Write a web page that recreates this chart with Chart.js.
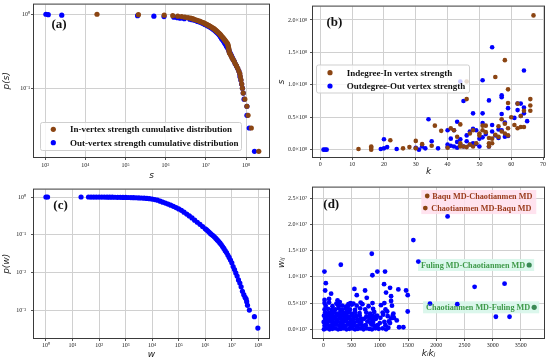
<!DOCTYPE html>
<html><head><meta charset="utf-8">
<script src="https://cdn.jsdelivr.net/npm/chart.js@4.4.1/dist/chart.umd.min.js"></script>
<style>
html,body{margin:0;padding:0;background:#fff;width:550px;height:362px;overflow:hidden}
.p{position:absolute;width:275px;height:181px}
</style></head><body>
<div class="p" style="left:0;top:0"><canvas id="ca"></canvas></div>
<div class="p" style="left:275px;top:0"><canvas id="cb"></canvas></div>
<div class="p" style="left:0;top:181px"><canvas id="cc"></canvas></div>
<div class="p" style="left:275px;top:181px"><canvas id="cd"></canvas></div>
<script>
// ---------------- DATA ----------------
// (a) cumulative vertex strength distribution: p(s) levels (shared) and strengths
const pLevels = [1.000,0.986,0.971,0.957,0.943,0.929,0.914,0.900,0.886,0.871,
 0.857,0.843,0.829,0.814,0.800,0.786,0.771,0.757,0.743,0.729,
 0.714,0.700,0.686,0.671,0.657,0.643,0.629,0.614,0.600,0.586,
 0.571,0.557,0.543,0.529,0.514,0.500,0.486,0.471,0.457,0.443,
 0.429,0.414,0.400,0.386,0.371,0.357,0.343,0.329,0.314,0.300,
 0.286,0.271,0.257,0.243,0.229,0.214,0.200,0.186,0.171,0.157,
 0.143,0.129,0.114,0.100,0.086,0.071,0.057,0.043,0.029,0.014];
const inStrength = [1.96e4,2.1e5,9.2e5,1.5e6,2.0e6,2.5e6,3.0e6,3.6e6,4.2e6,4.6e6,
 5.0e6,5.5e6,6.0e6,6.6e6,7.2e6,7.8e6,8.5e6,9.1e6,9.8e6,1.05e7,
 1.12e7,1.2e7,1.28e7,1.37e7,1.46e7,1.55e7,1.64e7,1.72e7,1.8e7,1.9e7,
 2.0e7,2.1e7,2.2e7,2.3e7,2.4e7,2.5e7,2.62e7,2.75e7,2.88e7,3.0e7,
 3.15e7,3.3e7,3.45e7,3.55e7,3.6e7,3.65e7,3.7e7,3.75e7,3.8e7,3.85e7,
 4.1e7,4.3e7,4.5e7,4.8e7,5.1e7,5.4e7,5.8e7,6.2e7,6.6e7,7.0e7,
 7.2e7,7.5e7,7.8e7,8.1e7,8.5e7,9.3e7,1.05e8,1.12e8,1.35e8,2.07e8];
const outStrength = [1.05e3,1.2e3,2.6e3,2.0e5,5.1e5,9.1e5,1.6e6,1.95e6,2.3e6,2.9e6,
 4.0e6,4.5e6,5.2e6,5.8e6,6.3e6,6.9e6,7.6e6,8.3e6,8.9e6,9.5e6,
 1.02e7,1.1e7,1.17e7,1.26e7,1.35e7,1.45e7,1.51e7,1.62e7,1.7e7,1.78e7,
 1.86e7,1.95e7,2.04e7,2.14e7,2.24e7,2.29e7,2.4e7,2.45e7,2.57e7,2.69e7,
 2.82e7,2.88e7,3.02e7,3.16e7,3.24e7,3.39e7,3.55e7,3.72e7,3.8e7,3.98e7,
 4.17e7,4.37e7,4.57e7,4.79e7,5.13e7,5.37e7,5.75e7,6.17e7,6.61e7,6.92e7,
 7.08e7,7.41e7,7.76e7,8.13e7,8.51e7,8.91e7,1.05e8,1.05e8,1.2e8,1.62e8];

// (b) degree k vs strength s (s in units of 10^8)
const indegreeInStrength = [[12,0.01],[16,0.03],[16,0.0],[16,0.05],[22,0.145],[26,0.02],[28,0.04],[30,0.135],[30,0.02],[32,0.085],
 [35,0.06],[36,0.37],[38,0.29],[40,0.03],[41,0.33],[42,0.30],[43,0.20],[44,0.39],[44,0.10],[44,0.05],
 [45,0.05],[46,0.78],[46,1.05],[46,0.04],[47,0.08],[47,0.25],[48,0.30],[48,0.05],[49,0.10],[50,0.25],
 [50,0.22],[51,0.30],[51,0.37],[52,0.27],[52,0.37],[53,0.18],[53,0.05],[53,0.10],[54,0.10],[54,0.17],
 [55,1.12],[55,0.23],[56,0.36],[56,0.20],[57,0.47],[57,0.28],[58,1.38],[58,0.40],[58,0.25],[59,0.93],
 [59,0.72],[59,0.33],[59,0.22],[60,0.50],[61,0.38],[62,0.33],[62,0.71],[63,0.35],[63,0.52],[64,0.35],
 [64,0.60],[66,0.78],[66,0.68],[66,0.60],[67,2.07]];
const outdegreeOutStrength = [[1,0],[1.5,0],[2,0],[19,0.01],[20,0.02],[20,0.16],[21,0.04],[24,0.01],[30,0.03],[31,0.0],
 [32,0.05],[33,0.02],[34,0.47],[35,0.13],[37,0.02],[40,0.30],[40,0.08],[40,0.04],[41,0.17],[41,0.06],
 [42,0.05],[42,0.30],[43,0.43],[43,0.12],[43,0.03],[44,1.05],[44,0.16],[44,0.07],[45,0.75],[45,0.05],
 [46,0.22],[46,0.13],[47,0.28],[47,0.08],[48,0.56],[48,0.32],[48,0.10],[49,0.30],[49,0.09],[50,0.17],
 [50,0.05],[51,1.07],[51,0.56],[51,0.41],[51,0.19],[52,0.24],[53,0.76],[53,0.05],[54,1.58],[54,0.38],
 [54,0.28],[55,0.22],[56,0.31],[56,0.18],[57,0.84],[57,0.81],[57,0.55],[57,0.30],[58,0.42],[58,0.20],
 [59,0.64],[59,0.21],[61,0.49],[62,0.71],[62,0.61],[63,0.52],[63,0.71],[64,1.22],[64,0.65],[64,0.56],[65,0.44]];

// (c) cumulative edge weight distribution [w, p(w)]
const weightCDF = [[1,1.0],[1.15,1.0],[21,0.9997],[40,0.999],[50,0.998],[63,0.997],[79,0.996],[100,0.995],[126,0.994],[158,0.993],
 [200,0.991],[251,0.989],[316,0.987],[398,0.985],[501,0.983],[631,0.98],[794,0.977],[1000,0.974],[1259,0.97],[1585,0.966],
 [1995,0.961],[2512,0.955],[3162,0.948],[3981,0.94],[5012,0.93],[6310,0.918],[7943,0.902],[1.0e4,0.88],[1.26e4,0.855],[1.58e4,0.822],
 [2.0e4,0.775],[2.51e4,0.731],[3.16e4,0.689],[3.98e4,0.65],[5.01e4,0.607],[6.31e4,0.567],[7.94e4,0.524],[1.0e5,0.485],[1.26e5,0.444],[1.58e5,0.398],
 [2.0e5,0.354],[2.51e5,0.315],[3.16e5,0.28],[3.98e5,0.244],[5.01e5,0.215],[6.31e5,0.189],[7.94e5,0.165],[1.0e6,0.144],[1.12e6,0.135],[1.26e6,0.126],
 [1.41e6,0.116],[1.58e6,0.107],[1.78e6,0.1],[2.0e6,0.094],[2.24e6,0.087],[2.51e6,0.08],[2.82e6,0.073],[3.16e6,0.067],[3.55e6,0.061],[3.98e6,0.055],
 [4.47e6,0.049],[5.01e6,0.0435],[5.62e6,0.038],[6.31e6,0.0338],[7.08e6,0.029],[7.94e6,0.0252],[8.91e6,0.0215],[1.0e7,0.0181],[1.12e7,0.0145],[1.26e7,0.012],
 [1.41e7,0.0098],[1.58e7,0.0081],[1.78e7,0.0064],[2.0e7,0.0053],[2.24e7,0.0042],[2.51e7,0.0032],[2.82e7,0.0026],[3.16e7,0.0022],[3.47e7,0.002],[3.63e7,0.0017],
 [3.89e7,0.00136],[4.57e7,0.00102],[7.08e7,0.00068],[9.55e7,0.00034]];

// (d) k_i*k_j vs w_ij (w in units of 10^7)
const edgeWeights = [
 [10,0.00],[60,0.02],[110,0.00],[160,0.01],[210,0.02],[260,0.00],[310,0.01],[360,0.02],[410,0.00],[460,0.01],[510,0.02],[560,0.00],[610,0.01],[660,0.02],[710,0.00],[760,0.02],[810,0.01],[860,0.00],[920,0.02],[980,0.01],[1050,0.02],[1110,0.00],[1150,0.03],
 [20,0.07],[70,0.09],[120,0.06],[170,0.08],[230,0.09],[280,0.07],[330,0.08],[380,0.06],[430,0.09],[480,0.07],[530,0.08],[590,0.06],[640,0.09],[700,0.07],[750,0.08],[850,0.09],[900,0.07],[960,0.08],[1100,0.08],
 [5,0.14],[50,0.13],[100,0.15],[150,0.14],[200,0.12],[250,0.15],[300,0.13],[350,0.14],[400,0.15],[450,0.12],[500,0.14],[550,0.13],[610,0.15],[670,0.14],[780,0.15],[830,0.13],[880,0.14],[1000,0.12],[1080,0.14],[1160,0.15],
 [30,0.20],[80,0.19],[130,0.21],[180,0.20],[230,0.18],[280,0.21],[330,0.19],[380,0.20],[430,0.21],[480,0.18],[530,0.20],[600,0.19],[660,0.21],[720,0.20],[820,0.21],[870,0.19],[930,0.20],[1010,0.22],[1200,0.21],
 [10,0.26],[60,0.25],[110,0.27],[160,0.26],[210,0.24],[260,0.27],[310,0.25],[360,0.26],[410,0.27],[460,0.24],[520,0.26],[580,0.25],[640,0.27],[760,0.24],[820,0.27],[880,0.25],[950,0.26],[1060,0.28],[1140,0.25],[1230,0.27],
 [30,0.32],[90,0.31],[140,0.33],[190,0.32],[240,0.30],[300,0.33],[350,0.31],[400,0.32],[450,0.33],[500,0.30],[560,0.32],[640,0.31],[760,0.32],[830,0.30],[900,0.33],[1050,0.32],[1130,0.34],
 [20,0.38],[80,0.39],[150,0.37],[210,0.38],[270,0.40],[330,0.37],[400,0.39],[470,0.38],[560,0.37],[650,0.40],[740,0.38],[880,0.39],[1100,0.38],
 [40,0.45],[160,0.44],[260,0.46],[330,0.45],[390,0.43],[430,0.44],[500,0.47],[590,0.45],[800,0.44],[1020,0.46],
 [20,0.50],[100,0.51],[230,0.49],[290,0.52],[480,0.50],[530,0.49],[660,0.51],[870,0.50],[1080,0.50],
 [18,1.10],[308,1.23],[857,1.44],[42,0.88],[30,0.74],[136,0.68],[549,0.77],[591,0.65],[738,0.74],[768,0.60],
 [868,1.03],[956,1.10],[1092,1.10],[1075,0.86],[1110,0.70],[1181,0.79],[1199,0.63],[1199,0.54],[1215,0.45],[1328,0.76],
 [1465,0.74],[1494,0.65],[1494,0.34],[1300,0.17],[1341,0.04],[1417,0.04],[691,0.48],[443,0.48],[1682,1.29],[1594,1.70],
 [2201,2.15],[1889,0.49],[2373,0.48],[2680,0.81],[3211,0.87],[3057,0.24],[3299,0.24],[100,0.58],[20,0.56],[250,0.55],
 [1240,0.30],[1180,0.12],[1250,0.22]];
const highlightBrown = [[1840,2.54],[1806,2.31]];
const highlightBrownLabels = ['Baqu MD-Chaotianmen MD','Chaotianmen MD-Baqu MD'];
const highlightGreen = [[3647,1.226],[3736,0.42]];
const highlightGreenLabels = ['Fuling MD-Chaotianmen MD','Chaotianmen MD-Fuling MD'];

// tick values
const decadesA_x = [1e3,1e4,1e5,1e6,1e7,1e8];
const decadesA_y = [0.1,1];
const ticksB_x = [0,10,20,30,40,50,60,70];
const ticksB_y = [0,0.5,1.0,1.5,2.0];
const decadesC_x = [1,1e1,1e2,1e3,1e4,1e5,1e6,1e7,1e8];
const decadesC_y = [1e-3,1e-2,1e-1,1];
const ticksD_x = [0,500,1000,1500,2000,2500,3000,3500];
const ticksD_y = [0,0.5,1.0,1.5,2.0,2.5];

// ---------------- STYLE ----------------
const SERIF = '"Liberation Serif", "Times New Roman", serif';
const SANS = '"DejaVu Sans", sans-serif';
const BLUE = '#0000ff', BROWN = '#8b4513', GREEN = '#3a8a55';
const SUP = {'0':'⁰','1':'¹','2':'²','3':'³','4':'⁴','5':'⁵','6':'⁶','7':'⁷','8':'⁸','9':'⁹','-':'⁻'};
const pow10 = v => '10' + String(Math.round(Math.log10(v))).split('').map(c => SUP[c]).join('');

function axis(o) {
  return {
    type: o.type, min: o.min, max: o.max,
    afterBuildTicks: s => { s.ticks = o.ticks.map(v => ({value: v})); },
    afterFit: s => { if (o.isY) s.width = o.size; else s.height = o.size; },
    grid: {color: '#d0d0d0', lineWidth: 1, drawTicks: true, tickLength: 3, tickColor: '#555', tickWidth: 1},
    border: {display: false},
    ticks: {callback: o.label, color: '#222', font: {family: SERIF, size: 6}, padding: o.pad,
            maxRotation: 0, minRotation: 0, autoSkip: false},
    title: {display: true, text: o.title, color: '#222',
            font: {family: SANS, size: 9, style: 'italic', lineHeight: 1.2}, padding: o.titlePad}
  };
}

function deco(before, after) {
  return {
    id: 'deco',
    beforeDatasetsDraw(chart) { if (before) before(chart.ctx, chart); },
    afterDatasetsDraw(chart) {
      const {ctx, chartArea: a} = chart;
      ctx.save();
      ctx.strokeStyle = '#3a3a3a'; ctx.lineWidth = 1;
      ctx.strokeRect(a.left - 0.5, a.top - 0.5, a.right - a.left + 1, a.bottom - a.top + 1);
      ctx.restore();
    },
    afterDraw(chart) { if (after) after(chart.ctx, chart); }
  };
}

function panelLetter(ctx, t, x, y) {
  ctx.save();
  ctx.font = 'bold 13px ' + SERIF; ctx.fillStyle = '#111';
  ctx.textBaseline = 'middle'; ctx.textAlign = 'left';
  ctx.fillText(t, x, y);
  ctx.restore();
}

function legendBox(ctx, box, items) {
  ctx.save();
  ctx.beginPath();
  if (ctx.roundRect) ctx.roundRect(box.x, box.y, box.w, box.h, 2); else ctx.rect(box.x, box.y, box.w, box.h);
  ctx.fillStyle = 'rgba(255,255,255,0.8)'; ctx.fill();
  ctx.strokeStyle = '#cfcfcf'; ctx.lineWidth = 1; ctx.stroke();
  ctx.font = 'bold 9px ' + SERIF; ctx.textBaseline = 'middle'; ctx.textAlign = 'left';
  items.forEach(it => {
    ctx.beginPath(); ctx.arc(it.mx, it.y, it.r, 0, Math.PI * 2);
    ctx.fillStyle = it.color; ctx.fill();
    ctx.fillStyle = '#111'; ctx.fillText(it.text, it.tx, it.y + 0.5);
  });
  ctx.restore();
}

function baseOptions(padding, x, y) {
  return {
    responsive: true, maintainAspectRatio: false, animation: false, events: [],
    layout: {padding},
    plugins: {legend: {display: false}, tooltip: {enabled: false}},
    scales: {x, y}
  };
}
const pts = arr => arr.map(p => ({x: p[0], y: p[1]}));
const ds = (data, color, r) => ({data, backgroundColor: color, borderColor: color, borderWidth: 0, pointRadius: r, showLine: false});

// ---------------- (a) ----------------
new Chart(document.getElementById('ca'), {
  type: 'scatter',
  data: {datasets: [
    ds(inStrength.map((s, i) => ({x: s, y: pLevels[i]})), BROWN, 2.6),
    ds(outStrength.map((s, i) => ({x: s, y: pLevels[i]})), BLUE, 2.6)
  ]},
  options: baseOptions({left: 0, right: 6, top: 3, bottom: 0},
    axis({type: 'logarithmic', min: 531, max: 3.72e8, ticks: decadesA_x, label: pow10, size: 24, pad: 2, title: 's', titlePad: {top: 0, bottom: 0}}),
    axis({type: 'logarithmic', min: 0.01175, max: 1.35, ticks: decadesA_y, label: pow10, size: 34, pad: 1, isY: true, title: 'p(s)', titlePad: {top: 1.5, bottom: 0}})),
  plugins: [deco(null, (ctx) => {
    panelLetter(ctx, '(a)', 51.5, 25);
    legendBox(ctx, {x: 40.5, y: 122.5, w: 201, h: 28}, [
      {mx: 53.3, tx: 70, y: 129.3, r: 2.6, color: BROWN, text: 'In-vertex strength cumulative distribution'},
      {mx: 53.3, tx: 70, y: 142.7, r: 2.6, color: BLUE, text: 'Out-vertex strength cumulative distribution'}
    ]);
  })]
});

// ---------------- (b) ----------------
new Chart(document.getElementById('cb'), {
  type: 'scatter',
  data: {datasets: [
    ds(pts(indegreeInStrength), BROWN, 2.3),
    ds(pts(outdegreeOutStrength), BLUE, 2.3)
  ]},
  options: baseOptions({left: 0, right: 6, top: 3, bottom: 0},
    axis({type: 'linear', min: -2.3, max: 70.3, ticks: ticksB_x, label: v => String(v), size: 24, pad: 1, title: 'k', titlePad: {top: 0, bottom: 4}}),
    axis({type: 'linear', min: -0.113, max: 2.206, ticks: ticksB_y, label: v => v.toFixed(1) + '×10⁸', size: 38, pad: 3, isY: true, title: 's', titlePad: {top: 1.3, bottom: 0}})),
  plugins: [deco(null, (ctx) => {
    panelLetter(ctx, '(b)', 51.5, 22.7);
    legendBox(ctx, {x: 41.5, y: 65, w: 153, h: 28}, [
      {mx: 55, tx: 71.7, y: 72.7, r: 2.6, color: BROWN, text: 'Indegree-In vertex strength'},
      {mx: 55, tx: 71.7, y: 86, r: 2.6, color: BLUE, text: 'Outdegree-Out vertex strength'}
    ]);
  })]
});

// ---------------- (c) ----------------
new Chart(document.getElementById('cc'), {
  type: 'scatter',
  data: {datasets: [ds(pts(weightCDF), BLUE, 2.6)]},
  options: baseOptions({left: 0, right: 6, top: 3, bottom: 0},
    axis({type: 'logarithmic', min: 0.355, max: 2.51e8, ticks: decadesC_x, label: pow10, size: 24, pad: 1, title: 'w', titlePad: {top: 0, bottom: 1.5}}),
    axis({type: 'logarithmic', min: 1.86e-4, max: 1.57, ticks: decadesC_y, label: pow10, size: 34, pad: 5, isY: true, title: 'p(w)', titlePad: {top: 1.5, bottom: 0}})),
  plugins: [deco(null, (ctx) => { panelLetter(ctx, '(c)', 53.3, 25); })]
});

// ---------------- (d) ----------------
function pix(chart, p) { return [chart.scales.x.getPixelForValue(p[0]), chart.scales.y.getPixelForValue(p[1])]; }
const LABEL_FONT = 'bold 8.2px ' + SERIF;
new Chart(document.getElementById('cd'), {
  type: 'scatter',
  data: {datasets: [
    ds(pts(edgeWeights), BLUE, 2.4),
    ds(pts(highlightBrown), BROWN, 2.4),
    ds(pts(highlightGreen), GREEN, 2.6)
  ]},
  options: baseOptions({left: 0, right: 6, top: 3, bottom: 0},
    axis({type: 'linear', min: -185, max: 3910, ticks: ticksD_x, label: v => String(v), size: 24, pad: 1, title: 'kᵢkⱼ', titlePad: {top: 0, bottom: 3}}),
    axis({type: 'linear', min: -0.165, max: 2.70, ticks: ticksD_y, label: v => v.toFixed(1) + '×10⁷', size: 38, pad: 3, isY: true, title: 'wᵢⱼ', titlePad: {top: 1.5, bottom: 0}})),
  plugins: [deco((ctx, chart) => {
    ctx.save();
    ctx.font = LABEL_FONT;
    const [b1x, b1y] = pix(chart, highlightBrown[0]);
    const [b2x, b2y] = pix(chart, highlightBrown[1]);
    const wb = Math.max(ctx.measureText(highlightBrownLabels[0]).width + 5, ctx.measureText(highlightBrownLabels[1]).width + 6);
    ctx.fillStyle = 'rgba(255,222,236,0.85)';
    ctx.fillRect(b2x - 4, b1y - 6, (b1x - b2x) + wb + 7, (b2y - b1y) + 12);
    ctx.fillStyle = 'rgba(215,246,234,0.9)';
    highlightGreen.forEach((p, i) => {
      const [gx, gy] = pix(chart, p);
      const w = ctx.measureText(highlightGreenLabels[i]).width;
      ctx.fillRect(gx - 4 - w - 3, gy - 6, w + 12, 12);
    });
    ctx.restore();
  }, (ctx, chart) => {
    panelLetter(ctx, '(d)', 48.3, 24);
    ctx.save();
    ctx.font = LABEL_FONT; ctx.textBaseline = 'middle';
    ctx.fillStyle = '#9a3b1c'; ctx.textAlign = 'left';
    highlightBrown.forEach((p, i) => {
      const [x, y] = pix(chart, p);
      ctx.fillText(highlightBrownLabels[i], x + 5 + i, y + 0.5);
    });
    ctx.fillStyle = '#3f9a4a'; ctx.textAlign = 'right';
    highlightGreen.forEach((p, i) => {
      const [x, y] = pix(chart, p);
      ctx.fillText(highlightGreenLabels[i], x - 4, y + 0.5);
    });
    ctx.restore();
  })]
});
</script></body></html>
